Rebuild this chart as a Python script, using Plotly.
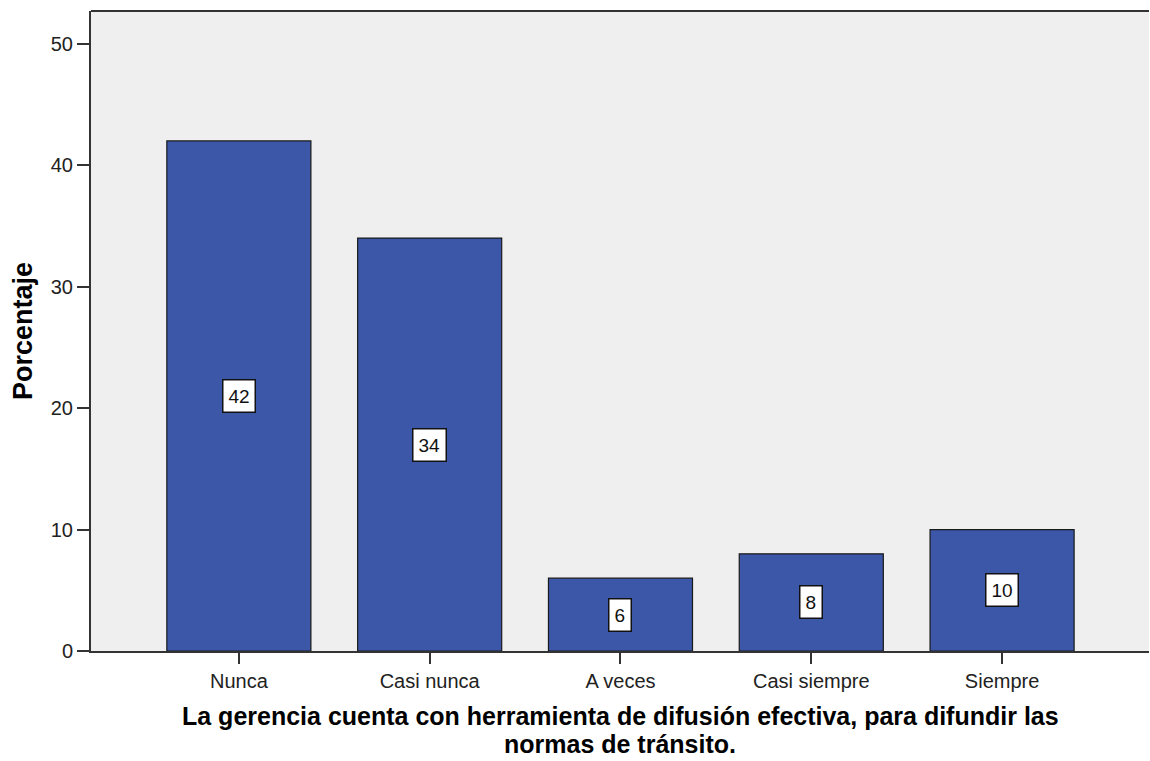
import plotly.graph_objects as go

categories = ["Nunca", "Casi nunca", "A veces", "Casi siempre", "Siempre"]
percentages = [42, 34, 6, 8, 10]
y_ticks = [0, 10, 20, 30, 40, 50]
x_title_lines = [
    "La gerencia cuenta con herramienta de difusión efectiva, para difundir las",
    "normas de tránsito.",
]
y_title = "Porcentaje"

BAR = "#3c56a8"
AXIS = "#333333"
FONT = "Liberation Sans, Arial, sans-serif"

fig = go.Figure(
    go.Bar(
        x=categories,
        y=percentages,
        width=0.755,
        marker=dict(color=BAR, line=dict(color="#1a1a1a", width=1.2)),
        hoverinfo="x+y",
    )
)

# value labels in white boxes at half bar height
for cat, val in zip(categories, percentages):
    fig.add_annotation(
        x=cat, y=val / 2, text=str(val), showarrow=False,
        font=dict(family=FONT, size=19, color="#111111"),
        bgcolor="#ffffff", bordercolor="#111111", borderwidth=1.5, borderpad=5,
    )

# axis titles as annotations (tight two-line spacing like the original)
for i, line in enumerate(x_title_lines):
    fig.add_annotation(
        xref="paper", yref="paper", x=0.5, y=-0.102 - i * 0.043,
        xanchor="center", yanchor="middle", showarrow=False,
        text=f"<b>{line}</b>", font=dict(family=FONT, size=25, color="#000000"),
    )
fig.add_annotation(
    xref="paper", yref="paper", x=-0.0643, y=0.5, textangle=-90,
    xanchor="center", yanchor="middle", showarrow=False,
    text=f"<b>{y_title}</b>", font=dict(family=FONT, size=27, color="#000000"),
)

# top frame line
fig.add_shape(
    type="line", xref="paper", yref="paper", x0=0, x1=1, y0=1, y1=1,
    line=dict(color=AXIS, width=2),
)

fig.update_layout(
    width=1150, height=761,
    paper_bgcolor="#ffffff",
    plot_bgcolor="#efefef",
    margin=dict(l=91, r=1, t=11, b=110),
    font=dict(family=FONT, size=20, color="#222222"),
    showlegend=False,
    xaxis=dict(
        range=[-0.775, 4.77],
        showline=True, linecolor=AXIS, linewidth=2,
        ticks="outside", ticklen=11, tickcolor=AXIS, tickwidth=2,
        tickfont=dict(size=20),
    ),
    yaxis=dict(
        range=[0, 52.7],
        tickvals=y_ticks,
        showgrid=False, zeroline=False,
        showline=True, linecolor=AXIS, linewidth=2,
        ticks="outside", ticklen=12, tickcolor=AXIS, tickwidth=2,
        tickfont=dict(size=20),
    ),
)

# drop the default page margin so the figure fills the window exactly
fig.write_html(
    "out.html",
    config={"displayModeBar": False},
    post_script="document.body.style.margin='0';"
    "document.documentElement.style.overflow='hidden';",
)
